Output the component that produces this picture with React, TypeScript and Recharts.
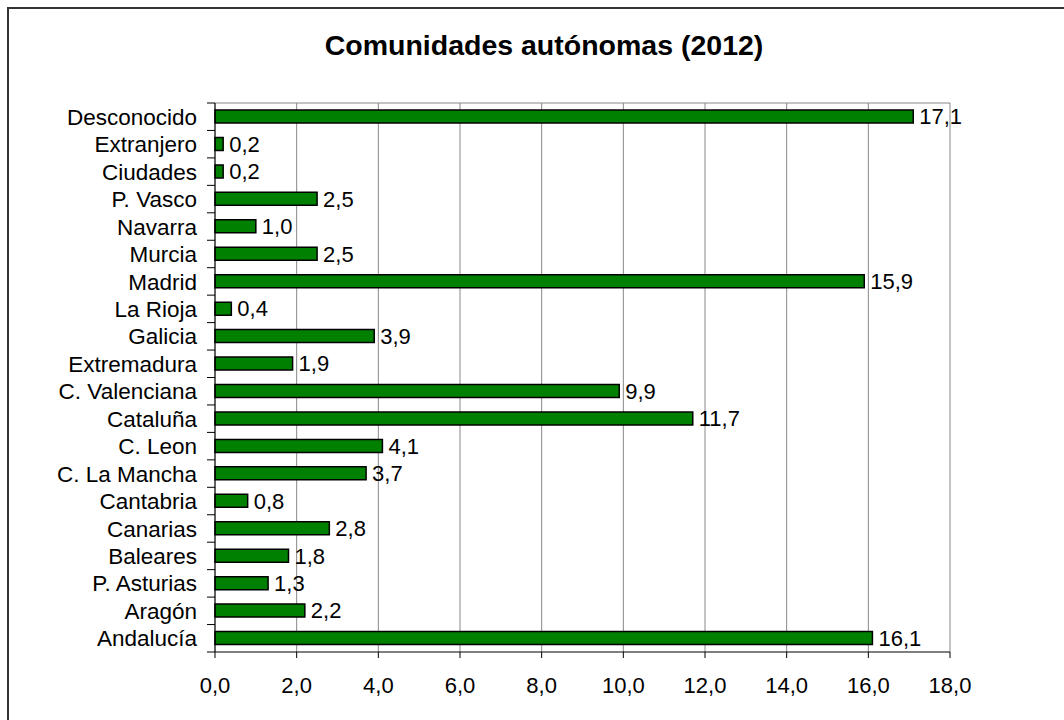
import React from 'react';
import { BarChart, Bar, XAxis, YAxis, CartesianGrid, LabelList } from 'recharts';

const REGIONS = ['Desconocido', 'Extranjero', 'Ciudades', 'P. Vasco', 'Navarra', 'Murcia', 'Madrid', 'La Rioja', 'Galicia', 'Extremadura', 'C. Valenciana', 'Cataluña', 'C. Leon', 'C. La Mancha', 'Cantabria', 'Canarias', 'Baleares', 'P. Asturias', 'Aragón', 'Andalucía'];
const SHARES = [17.1, 0.2, 0.2, 2.5, 1.0, 2.5, 15.9, 0.4, 3.9, 1.9, 9.9, 11.7, 4.1, 3.7, 0.8, 2.8, 1.8, 1.3, 2.2, 16.1];
const X_TICKS = [0, 2, 4, 6, 8, 10, 12, 14, 16, 18];
const TITLE = 'Comunidades autónomas (2012)';

const data = REGIONS.map((name, i) => ({ name, value: SHARES[i] }));

const FONT = '"Liberation Sans", Arial, sans-serif';
const W = 1064;
const H = 720;
const M = { top: 103, right: 114, bottom: 28, left: 0 };
const Y_W = 215;
const X_H = 40;
const BAND = (H - M.top - M.bottom - X_H) / REGIONS.length;

const fmt = (v: number) => v.toFixed(1).replace('.', ',');

const YTick = (props: any) => {
  const { x, y, payload, index } = props;
  const axisX = x + 18;
  return (
    <g>
      <line x1={axisX - 8} x2={axisX} y1={y - BAND / 2} y2={y - BAND / 2} stroke="#000" />
      {index === REGIONS.length - 1 && (
        <line x1={axisX - 8} x2={axisX} y1={y + BAND / 2} y2={y + BAND / 2} stroke="#000" />
      )}
      <text x={x} y={y} dy="0.36em" textAnchor="end" fontSize={22.5} fontFamily={FONT} fill="#000">
        {payload.value}
      </text>
    </g>
  );
};

export default function App() {
  return (
    <div style={{ position: 'absolute', left: 0, top: 0, width: W, height: H, overflow: 'hidden', background: '#fff' }}>
      <div style={{ position: 'absolute', left: 7, top: 7, width: W + 20, height: H + 20, border: '2px solid #333', boxSizing: 'border-box' }} />
      <div style={{ position: 'absolute', left: 0, top: 31, width: 1088, textAlign: 'center', fontFamily: FONT, fontWeight: 'bold', fontSize: 28.5, lineHeight: '29px', color: '#000' }}>
        {TITLE}
      </div>
      <div style={{ position: 'absolute', left: 0, top: 0 }}>
        <BarChart width={W} height={H} data={data} layout="vertical" margin={M} barSize={13}>
          <CartesianGrid
            stroke="#888"
            vertical
            horizontal
            horizontalCoordinatesGenerator={({ offset }: any) => [offset.top]}
          />
          <XAxis
            type="number"
            domain={[0, 18]}
            ticks={X_TICKS}
            tickFormatter={fmt}
            height={X_H}
            tickSize={6}
            tickMargin={19}
            axisLine={{ stroke: '#000' }}
            tickLine={{ stroke: '#000' }}
            tick={{ fontSize: 22, fontFamily: FONT, fill: '#000' }}
            interval={0}
          />
          <YAxis
            type="category"
            dataKey="name"
            width={Y_W}
            tickSize={6}
            tickMargin={12}
            tickLine={false}
            axisLine={{ stroke: '#000' }}
            tick={<YTick />}
            interval={0}
          />
          <Bar dataKey="value" fill="#008000" stroke="#000" strokeWidth={1.5} isAnimationActive={false}>
            <LabelList dataKey="value" position="right" offset={6} formatter={(v: any) => fmt(Number(v))} style={{ fontSize: 22, fontFamily: FONT, fill: '#000' }} />
          </Bar>
        </BarChart>
      </div>
    </div>
  );
}
